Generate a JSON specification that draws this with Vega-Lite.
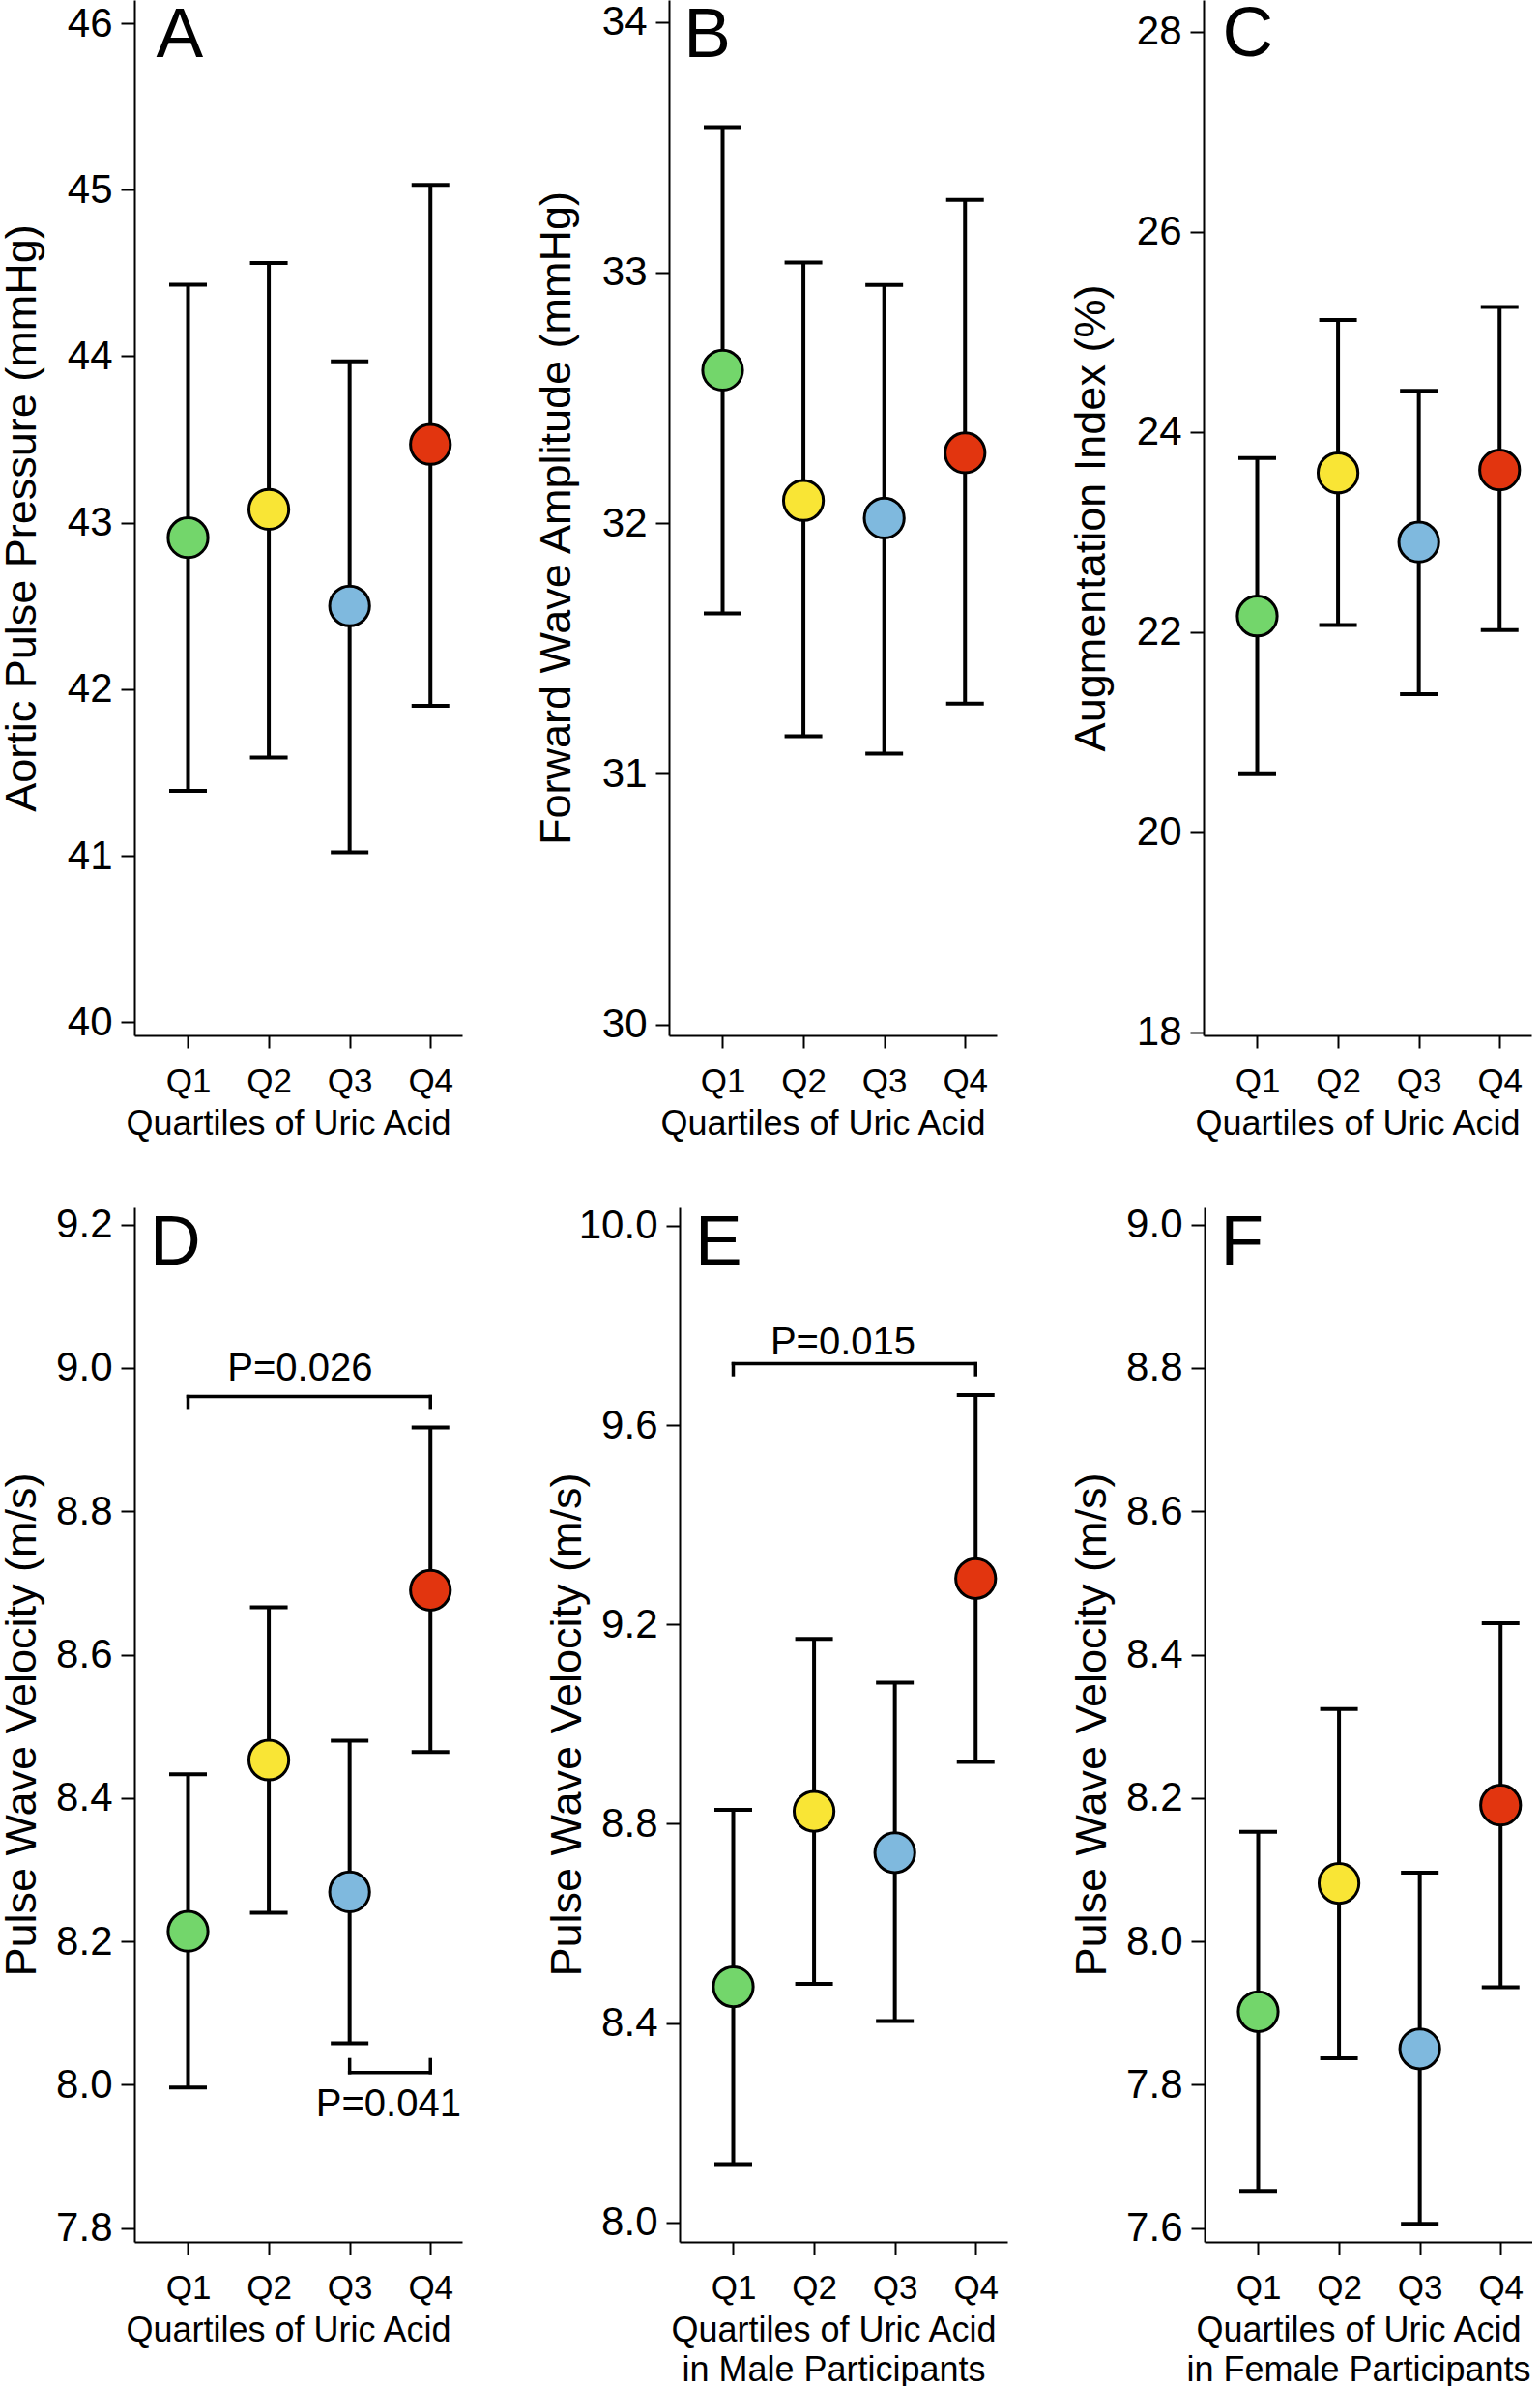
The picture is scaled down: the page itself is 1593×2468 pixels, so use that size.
{
"$schema": "https://vega.github.io/schema/vega-lite/v6.json",
"background": "white",
"padding": {"left": 0, "top": 0, "right": 0, "bottom": 0},
"config": {
 "font": "Liberation Sans",
 "view": {"stroke": null},
 "axis": {"grid": false, "domainColor": "#000", "domainWidth": 2, "tickColor": "#000", "tickWidth": 2, "labelColor": "#000", "titleColor": "#000", "titleFontWeight": "normal", "labelFont": "Liberation Sans", "titleFont": "Liberation Sans"},
 "axisX": {"tickSize": 13, "labelFontSize": 35, "labelPadding": 17, "labelAngle": 0, "labelFlush": false, "labelOverlap": false, "titleFontSize": 36, "titlePadding": 9, "minExtent": 65, "maxExtent": 65, "titleLineHeight": 41},
 "axisY": {"tickSize": 14, "labelFontSize": 42, "labelPadding": 9, "labelFlush": false, "labelOverlap": false, "titleFontSize": 45, "titlePadding": 19, "minExtent": 75, "maxExtent": 75},
 "text": {"font": "Liberation Sans", "color": "#000"}
},
"datasets": {
 "pts": [
  {"panel": "A", "q": 1, "m": 42.91, "lo": 41.39, "hi": 44.43},
  {"panel": "A", "q": 2, "m": 43.08, "lo": 41.59, "hi": 44.56},
  {"panel": "A", "q": 3, "m": 42.50, "lo": 41.02, "hi": 43.97},
  {"panel": "A", "q": 4, "m": 43.47, "lo": 41.90, "hi": 45.03},
  {"panel": "B", "q": 1, "m": 32.61, "lo": 31.64, "hi": 33.58},
  {"panel": "B", "q": 2, "m": 32.09, "lo": 31.15, "hi": 33.04},
  {"panel": "B", "q": 3, "m": 32.02, "lo": 31.08, "hi": 32.95},
  {"panel": "B", "q": 4, "m": 32.28, "lo": 31.28, "hi": 33.29},
  {"panel": "C", "q": 1, "m": 22.16, "lo": 20.58, "hi": 23.74},
  {"panel": "C", "q": 2, "m": 23.59, "lo": 22.07, "hi": 25.12},
  {"panel": "C", "q": 3, "m": 22.90, "lo": 21.38, "hi": 24.41},
  {"panel": "C", "q": 4, "m": 23.62, "lo": 22.02, "hi": 25.25},
  {"panel": "D", "q": 1, "m": 8.214, "lo": 7.996, "hi": 8.433},
  {"panel": "D", "q": 2, "m": 8.453, "lo": 8.240, "hi": 8.666},
  {"panel": "D", "q": 3, "m": 8.269, "lo": 8.058, "hi": 8.480},
  {"panel": "D", "q": 4, "m": 8.690, "lo": 8.464, "hi": 8.917},
  {"panel": "E", "q": 1, "m": 8.473, "lo": 8.117, "hi": 8.828},
  {"panel": "E", "q": 2, "m": 8.825, "lo": 8.479, "hi": 9.171},
  {"panel": "E", "q": 3, "m": 8.742, "lo": 8.404, "hi": 9.083},
  {"panel": "E", "q": 4, "m": 9.292, "lo": 8.924, "hi": 9.660},
  {"panel": "F", "q": 1, "m": 7.902, "lo": 7.652, "hi": 8.153},
  {"panel": "F", "q": 2, "m": 8.081, "lo": 7.837, "hi": 8.324},
  {"panel": "F", "q": 3, "m": 7.850, "lo": 7.606, "hi": 8.096},
  {"panel": "F", "q": 4, "m": 8.190, "lo": 7.936, "hi": 8.444}
 ],
 "letters": [
  {"panel": "A", "q": 0.606, "v": 45.80, "t": "A"},
  {"panel": "B", "q": 0.517, "v": 33.858, "t": "B"},
  {"panel": "C", "q": 0.568, "v": 27.752, "t": "C"},
  {"panel": "D", "q": 0.527, "v": 9.144, "t": "D"},
  {"panel": "E", "q": 0.527, "v": 9.922, "t": "E"},
  {"panel": "F", "q": 0.532, "v": 8.944, "t": "F"}
 ],
 "segs": [
  {"panel": "D", "x1": 1, "x2": 4, "y1": 8.960, "y2": 8.960},
  {"panel": "D", "x1": 1, "x2": 1, "y1": 8.960, "y2": 8.945},
  {"panel": "D", "x1": 4, "x2": 4, "y1": 8.960, "y2": 8.945},
  {"panel": "D", "x1": 3, "x2": 4, "y1": 8.017, "y2": 8.017},
  {"panel": "D", "x1": 3, "x2": 3, "y1": 8.017, "y2": 8.035},
  {"panel": "D", "x1": 4, "x2": 4, "y1": 8.017, "y2": 8.035},
  {"panel": "E", "x1": 1, "x2": 4, "y1": 9.723, "y2": 9.723},
  {"panel": "E", "x1": 1, "x2": 1, "y1": 9.723, "y2": 9.701},
  {"panel": "E", "x1": 4, "x2": 4, "y1": 9.723, "y2": 9.701}
 ],
 "ptxt": [
  {"panel": "D", "q": 2.386, "v": 8.983, "t": "P=0.026"},
  {"panel": "D", "q": 3.481, "v": 7.956, "t": "P=0.041"},
  {"panel": "E", "q": 2.358, "v": 9.742, "t": "P=0.015"}
 ]
},
"vconcat": [
 {"hconcat": [
  {"width": 339, "height": 1071, "layer": [
   {"data": {"name": "pts"}, "transform": [{"filter": "datum.panel === 'A'"}],
    "mark": {"type": "rule", "color": "#000", "strokeWidth": 4},
    "encoding": {
     "x": {"field": "q", "type": "quantitative", "scale": {"domain": [0.336, 4.392], "nice": false, "zero": false}, "axis": {"values": [1,2,3,4], "labelExpr": "'Q' + datum.value", "title": "Quartiles of Uric Acid", "titleX": 159}},
     "y": {"field": "lo", "type": "quantitative", "scale": {"domain": [39.92, 46.14], "nice": false, "zero": false}, "axis": {"values": [40,41,42,43,44,45,46], "format": "d", "title": "Aortic Pulse Pressure (mmHg)"}},
     "y2": {"field": "hi"}}},
   {"data": {"name": "pts"}, "transform": [{"filter": "datum.panel === 'A'"}],
    "mark": {"type": "tick", "orient": "horizontal", "size": 39, "thickness": 4, "color": "#000", "opacity": 1},
    "encoding": {"x": {"field": "q", "type": "quantitative"}, "y": {"field": "hi", "type": "quantitative"}}},
   {"data": {"name": "pts"}, "transform": [{"filter": "datum.panel === 'A'"}],
    "mark": {"type": "tick", "orient": "horizontal", "size": 39, "thickness": 4, "color": "#000", "opacity": 1},
    "encoding": {"x": {"field": "q", "type": "quantitative"}, "y": {"field": "lo", "type": "quantitative"}}},
   {"data": {"name": "pts"}, "transform": [{"filter": "datum.panel === 'A'"}],
    "mark": {"type": "circle", "size": 1700, "stroke": "#000", "strokeWidth": 3, "opacity": 1},
    "encoding": {"x": {"field": "q", "type": "quantitative"}, "y": {"field": "m", "type": "quantitative"}, "fill": {"field": "q", "type": "nominal", "scale": {"domain": [1,2,3,4], "range": ["#73D66B","#F9E535","#7FB9DE","#E2350F"]}, "legend": null}}},
   {"data": {"name": "letters"}, "transform": [{"filter": "datum.panel === 'A'"}],
    "mark": {"type": "text", "align": "left", "baseline": "alphabetic", "fontSize": 73, "color": "#000"},
    "encoding": {"x": {"field": "q", "type": "quantitative"}, "y": {"field": "v", "type": "quantitative"}, "text": {"field": "t"}}}
  ]},
  {"width": 339, "height": 1071, "layer": [
   {"data": {"name": "pts"}, "transform": [{"filter": "datum.panel === 'B'"}],
    "mark": {"type": "rule", "color": "#000", "strokeWidth": 4},
    "encoding": {
     "x": {"field": "q", "type": "quantitative", "scale": {"domain": [0.336, 4.392], "nice": false, "zero": false}, "axis": {"values": [1,2,3,4], "labelExpr": "'Q' + datum.value", "title": "Quartiles of Uric Acid", "titleX": 159}},
     "y": {"field": "lo", "type": "quantitative", "scale": {"domain": [29.956, 34.087], "nice": false, "zero": false}, "axis": {"values": [30,31,32,33,34], "format": "d", "title": "Forward Wave Amplitude (mmHg)"}},
     "y2": {"field": "hi"}}},
   {"data": {"name": "pts"}, "transform": [{"filter": "datum.panel === 'B'"}],
    "mark": {"type": "tick", "orient": "horizontal", "size": 39, "thickness": 4, "color": "#000", "opacity": 1},
    "encoding": {"x": {"field": "q", "type": "quantitative"}, "y": {"field": "hi", "type": "quantitative"}}},
   {"data": {"name": "pts"}, "transform": [{"filter": "datum.panel === 'B'"}],
    "mark": {"type": "tick", "orient": "horizontal", "size": 39, "thickness": 4, "color": "#000", "opacity": 1},
    "encoding": {"x": {"field": "q", "type": "quantitative"}, "y": {"field": "lo", "type": "quantitative"}}},
   {"data": {"name": "pts"}, "transform": [{"filter": "datum.panel === 'B'"}],
    "mark": {"type": "circle", "size": 1700, "stroke": "#000", "strokeWidth": 3, "opacity": 1},
    "encoding": {"x": {"field": "q", "type": "quantitative"}, "y": {"field": "m", "type": "quantitative"}, "fill": {"field": "q", "type": "nominal", "scale": {"domain": [1,2,3,4], "range": ["#73D66B","#F9E535","#7FB9DE","#E2350F"]}, "legend": null}}},
   {"data": {"name": "letters"}, "transform": [{"filter": "datum.panel === 'B'"}],
    "mark": {"type": "text", "align": "left", "baseline": "alphabetic", "fontSize": 73, "color": "#000"},
    "encoding": {"x": {"field": "q", "type": "quantitative"}, "y": {"field": "v", "type": "quantitative"}, "text": {"field": "t"}}}
  ]},
  {"width": 339, "height": 1071, "layer": [
   {"data": {"name": "pts"}, "transform": [{"filter": "datum.panel === 'C'"}],
    "mark": {"type": "rule", "color": "#000", "strokeWidth": 4},
    "encoding": {
     "x": {"field": "q", "type": "quantitative", "scale": {"domain": [0.336, 4.392], "nice": false, "zero": false}, "axis": {"values": [1,2,3,4], "labelExpr": "'Q' + datum.value", "title": "Quartiles of Uric Acid", "titleX": 159}},
     "y": {"field": "lo", "type": "quantitative", "scale": {"domain": [17.969, 28.317], "nice": false, "zero": false}, "axis": {"values": [18,20,22,24,26,28], "format": "d", "title": "Augmentation Index (%)"}},
     "y2": {"field": "hi"}}},
   {"data": {"name": "pts"}, "transform": [{"filter": "datum.panel === 'C'"}],
    "mark": {"type": "tick", "orient": "horizontal", "size": 39, "thickness": 4, "color": "#000", "opacity": 1},
    "encoding": {"x": {"field": "q", "type": "quantitative"}, "y": {"field": "hi", "type": "quantitative"}}},
   {"data": {"name": "pts"}, "transform": [{"filter": "datum.panel === 'C'"}],
    "mark": {"type": "tick", "orient": "horizontal", "size": 39, "thickness": 4, "color": "#000", "opacity": 1},
    "encoding": {"x": {"field": "q", "type": "quantitative"}, "y": {"field": "lo", "type": "quantitative"}}},
   {"data": {"name": "pts"}, "transform": [{"filter": "datum.panel === 'C'"}],
    "mark": {"type": "circle", "size": 1700, "stroke": "#000", "strokeWidth": 3, "opacity": 1},
    "encoding": {"x": {"field": "q", "type": "quantitative"}, "y": {"field": "m", "type": "quantitative"}, "fill": {"field": "q", "type": "nominal", "scale": {"domain": [1,2,3,4], "range": ["#73D66B","#F9E535","#7FB9DE","#E2350F"]}, "legend": null}}},
   {"data": {"name": "letters"}, "transform": [{"filter": "datum.panel === 'C'"}],
    "mark": {"type": "text", "align": "left", "baseline": "alphabetic", "fontSize": 73, "color": "#000"},
    "encoding": {"x": {"field": "q", "type": "quantitative"}, "y": {"field": "v", "type": "quantitative"}, "text": {"field": "t"}}}
  ]}
 ], "spacing": 75},
 {"hconcat": [
  {"width": 339, "height": 1071, "layer": [
   {"data": {"name": "pts"}, "transform": [{"filter": "datum.panel === 'D'"}],
    "mark": {"type": "rule", "color": "#000", "strokeWidth": 4},
    "encoding": {
     "x": {"field": "q", "type": "quantitative", "scale": {"domain": [0.336, 4.392], "nice": false, "zero": false}, "axis": {"values": [1,2,3,4], "labelExpr": "'Q' + datum.value", "title": "Quartiles of Uric Acid", "titleX": 159}},
     "y": {"field": "lo", "type": "quantitative", "scale": {"domain": [7.7807, 9.2251], "nice": false, "zero": false}, "axis": {"values": [7.8,8.0,8.2,8.4,8.6,8.8,9.0,9.2], "format": ".1f", "title": "Pulse Wave Velocity (m/s)"}},
     "y2": {"field": "hi"}}},
   {"data": {"name": "pts"}, "transform": [{"filter": "datum.panel === 'D'"}],
    "mark": {"type": "tick", "orient": "horizontal", "size": 39, "thickness": 4, "color": "#000", "opacity": 1},
    "encoding": {"x": {"field": "q", "type": "quantitative"}, "y": {"field": "hi", "type": "quantitative"}}},
   {"data": {"name": "pts"}, "transform": [{"filter": "datum.panel === 'D'"}],
    "mark": {"type": "tick", "orient": "horizontal", "size": 39, "thickness": 4, "color": "#000", "opacity": 1},
    "encoding": {"x": {"field": "q", "type": "quantitative"}, "y": {"field": "lo", "type": "quantitative"}}},
   {"data": {"name": "segs"}, "transform": [{"filter": "datum.panel === 'D'"}],
    "mark": {"type": "rule", "color": "#000", "strokeWidth": 3.5, "strokeCap": "square"},
    "encoding": {"x": {"field": "x1", "type": "quantitative"}, "x2": {"field": "x2"}, "y": {"field": "y1", "type": "quantitative"}, "y2": {"field": "y2"}}},
   {"data": {"name": "ptxt"}, "transform": [{"filter": "datum.panel === 'D'"}],
    "mark": {"type": "text", "align": "center", "baseline": "alphabetic", "fontSize": 40, "color": "#000"},
    "encoding": {"x": {"field": "q", "type": "quantitative"}, "y": {"field": "v", "type": "quantitative"}, "text": {"field": "t"}}},
   {"data": {"name": "pts"}, "transform": [{"filter": "datum.panel === 'D'"}],
    "mark": {"type": "circle", "size": 1700, "stroke": "#000", "strokeWidth": 3, "opacity": 1},
    "encoding": {"x": {"field": "q", "type": "quantitative"}, "y": {"field": "m", "type": "quantitative"}, "fill": {"field": "q", "type": "nominal", "scale": {"domain": [1,2,3,4], "range": ["#73D66B","#F9E535","#7FB9DE","#E2350F"]}, "legend": null}}},
   {"data": {"name": "letters"}, "transform": [{"filter": "datum.panel === 'D'"}],
    "mark": {"type": "text", "align": "left", "baseline": "alphabetic", "fontSize": 73, "color": "#000"},
    "encoding": {"x": {"field": "q", "type": "quantitative"}, "y": {"field": "v", "type": "quantitative"}, "text": {"field": "t"}}}
  ]},
  {"hconcat": [
   {"width": 339, "height": 1071, "layer": [
    {"data": {"name": "pts"}, "transform": [{"filter": "datum.panel === 'E'"}],
     "mark": {"type": "rule", "color": "#000", "strokeWidth": 4},
     "encoding": {
      "x": {"field": "q", "type": "quantitative", "scale": {"domain": [0.336, 4.392], "nice": false, "zero": false}, "axis": {"values": [1,2,3,4], "labelExpr": "'Q' + datum.value", "title": ["Quartiles of Uric Acid", "in Male Participants"], "titleX": 159}},
      "y": {"field": "lo", "type": "quantitative", "scale": {"domain": [7.961, 10.0384], "nice": false, "zero": false}, "axis": {"values": [8.0,8.4,8.8,9.2,9.6,10.0], "format": ".1f", "title": "Pulse Wave Velocity (m/s)"}},
      "y2": {"field": "hi"}}},
    {"data": {"name": "pts"}, "transform": [{"filter": "datum.panel === 'E'"}],
     "mark": {"type": "tick", "orient": "horizontal", "size": 39, "thickness": 4, "color": "#000", "opacity": 1},
     "encoding": {"x": {"field": "q", "type": "quantitative"}, "y": {"field": "hi", "type": "quantitative"}}},
    {"data": {"name": "pts"}, "transform": [{"filter": "datum.panel === 'E'"}],
     "mark": {"type": "tick", "orient": "horizontal", "size": 39, "thickness": 4, "color": "#000", "opacity": 1},
     "encoding": {"x": {"field": "q", "type": "quantitative"}, "y": {"field": "lo", "type": "quantitative"}}},
    {"data": {"name": "segs"}, "transform": [{"filter": "datum.panel === 'E'"}],
     "mark": {"type": "rule", "color": "#000", "strokeWidth": 3.5, "strokeCap": "square"},
     "encoding": {"x": {"field": "x1", "type": "quantitative"}, "x2": {"field": "x2"}, "y": {"field": "y1", "type": "quantitative"}, "y2": {"field": "y2"}}},
    {"data": {"name": "ptxt"}, "transform": [{"filter": "datum.panel === 'E'"}],
     "mark": {"type": "text", "align": "center", "baseline": "alphabetic", "fontSize": 40, "color": "#000"},
     "encoding": {"x": {"field": "q", "type": "quantitative"}, "y": {"field": "v", "type": "quantitative"}, "text": {"field": "t"}}},
    {"data": {"name": "pts"}, "transform": [{"filter": "datum.panel === 'E'"}],
     "mark": {"type": "circle", "size": 1700, "stroke": "#000", "strokeWidth": 3, "opacity": 1},
     "encoding": {"x": {"field": "q", "type": "quantitative"}, "y": {"field": "m", "type": "quantitative"}, "fill": {"field": "q", "type": "nominal", "scale": {"domain": [1,2,3,4], "range": ["#73D66B","#F9E535","#7FB9DE","#E2350F"]}, "legend": null}}},
    {"data": {"name": "letters"}, "transform": [{"filter": "datum.panel === 'E'"}],
     "mark": {"type": "text", "align": "left", "baseline": "alphabetic", "fontSize": 73, "color": "#000"},
     "encoding": {"x": {"field": "q", "type": "quantitative"}, "y": {"field": "v", "type": "quantitative"}, "text": {"field": "t"}}}
   ]},
   {"width": 339, "height": 1071, "layer": [
    {"data": {"name": "pts"}, "transform": [{"filter": "datum.panel === 'F'"}],
     "mark": {"type": "rule", "color": "#000", "strokeWidth": 4},
     "encoding": {
      "x": {"field": "q", "type": "quantitative", "scale": {"domain": [0.336, 4.392], "nice": false, "zero": false}, "axis": {"values": [1,2,3,4], "labelExpr": "'Q' + datum.value", "title": ["Quartiles of Uric Acid", "in Female Participants"], "titleX": 159}},
      "y": {"field": "lo", "type": "quantitative", "scale": {"domain": [7.5807, 9.0251], "nice": false, "zero": false}, "axis": {"values": [7.6,7.8,8.0,8.2,8.4,8.6,8.8,9.0], "format": ".1f", "title": "Pulse Wave Velocity (m/s)"}},
      "y2": {"field": "hi"}}},
    {"data": {"name": "pts"}, "transform": [{"filter": "datum.panel === 'F'"}],
     "mark": {"type": "tick", "orient": "horizontal", "size": 39, "thickness": 4, "color": "#000", "opacity": 1},
     "encoding": {"x": {"field": "q", "type": "quantitative"}, "y": {"field": "hi", "type": "quantitative"}}},
    {"data": {"name": "pts"}, "transform": [{"filter": "datum.panel === 'F'"}],
     "mark": {"type": "tick", "orient": "horizontal", "size": 39, "thickness": 4, "color": "#000", "opacity": 1},
     "encoding": {"x": {"field": "q", "type": "quantitative"}, "y": {"field": "lo", "type": "quantitative"}}},
    {"data": {"name": "pts"}, "transform": [{"filter": "datum.panel === 'F'"}],
     "mark": {"type": "circle", "size": 1700, "stroke": "#000", "strokeWidth": 3, "opacity": 1},
     "encoding": {"x": {"field": "q", "type": "quantitative"}, "y": {"field": "m", "type": "quantitative"}, "fill": {"field": "q", "type": "nominal", "scale": {"domain": [1,2,3,4], "range": ["#73D66B","#F9E535","#7FB9DE","#E2350F"]}, "legend": null}}},
    {"data": {"name": "letters"}, "transform": [{"filter": "datum.panel === 'F'"}],
     "mark": {"type": "text", "align": "left", "baseline": "alphabetic", "fontSize": 73, "color": "#000"},
     "encoding": {"x": {"field": "q", "type": "quantitative"}, "y": {"field": "v", "type": "quantitative"}, "text": {"field": "t"}}}
   ]}
  ], "spacing": 65}
 ], "spacing": 86}
],
"spacing": 65
}
